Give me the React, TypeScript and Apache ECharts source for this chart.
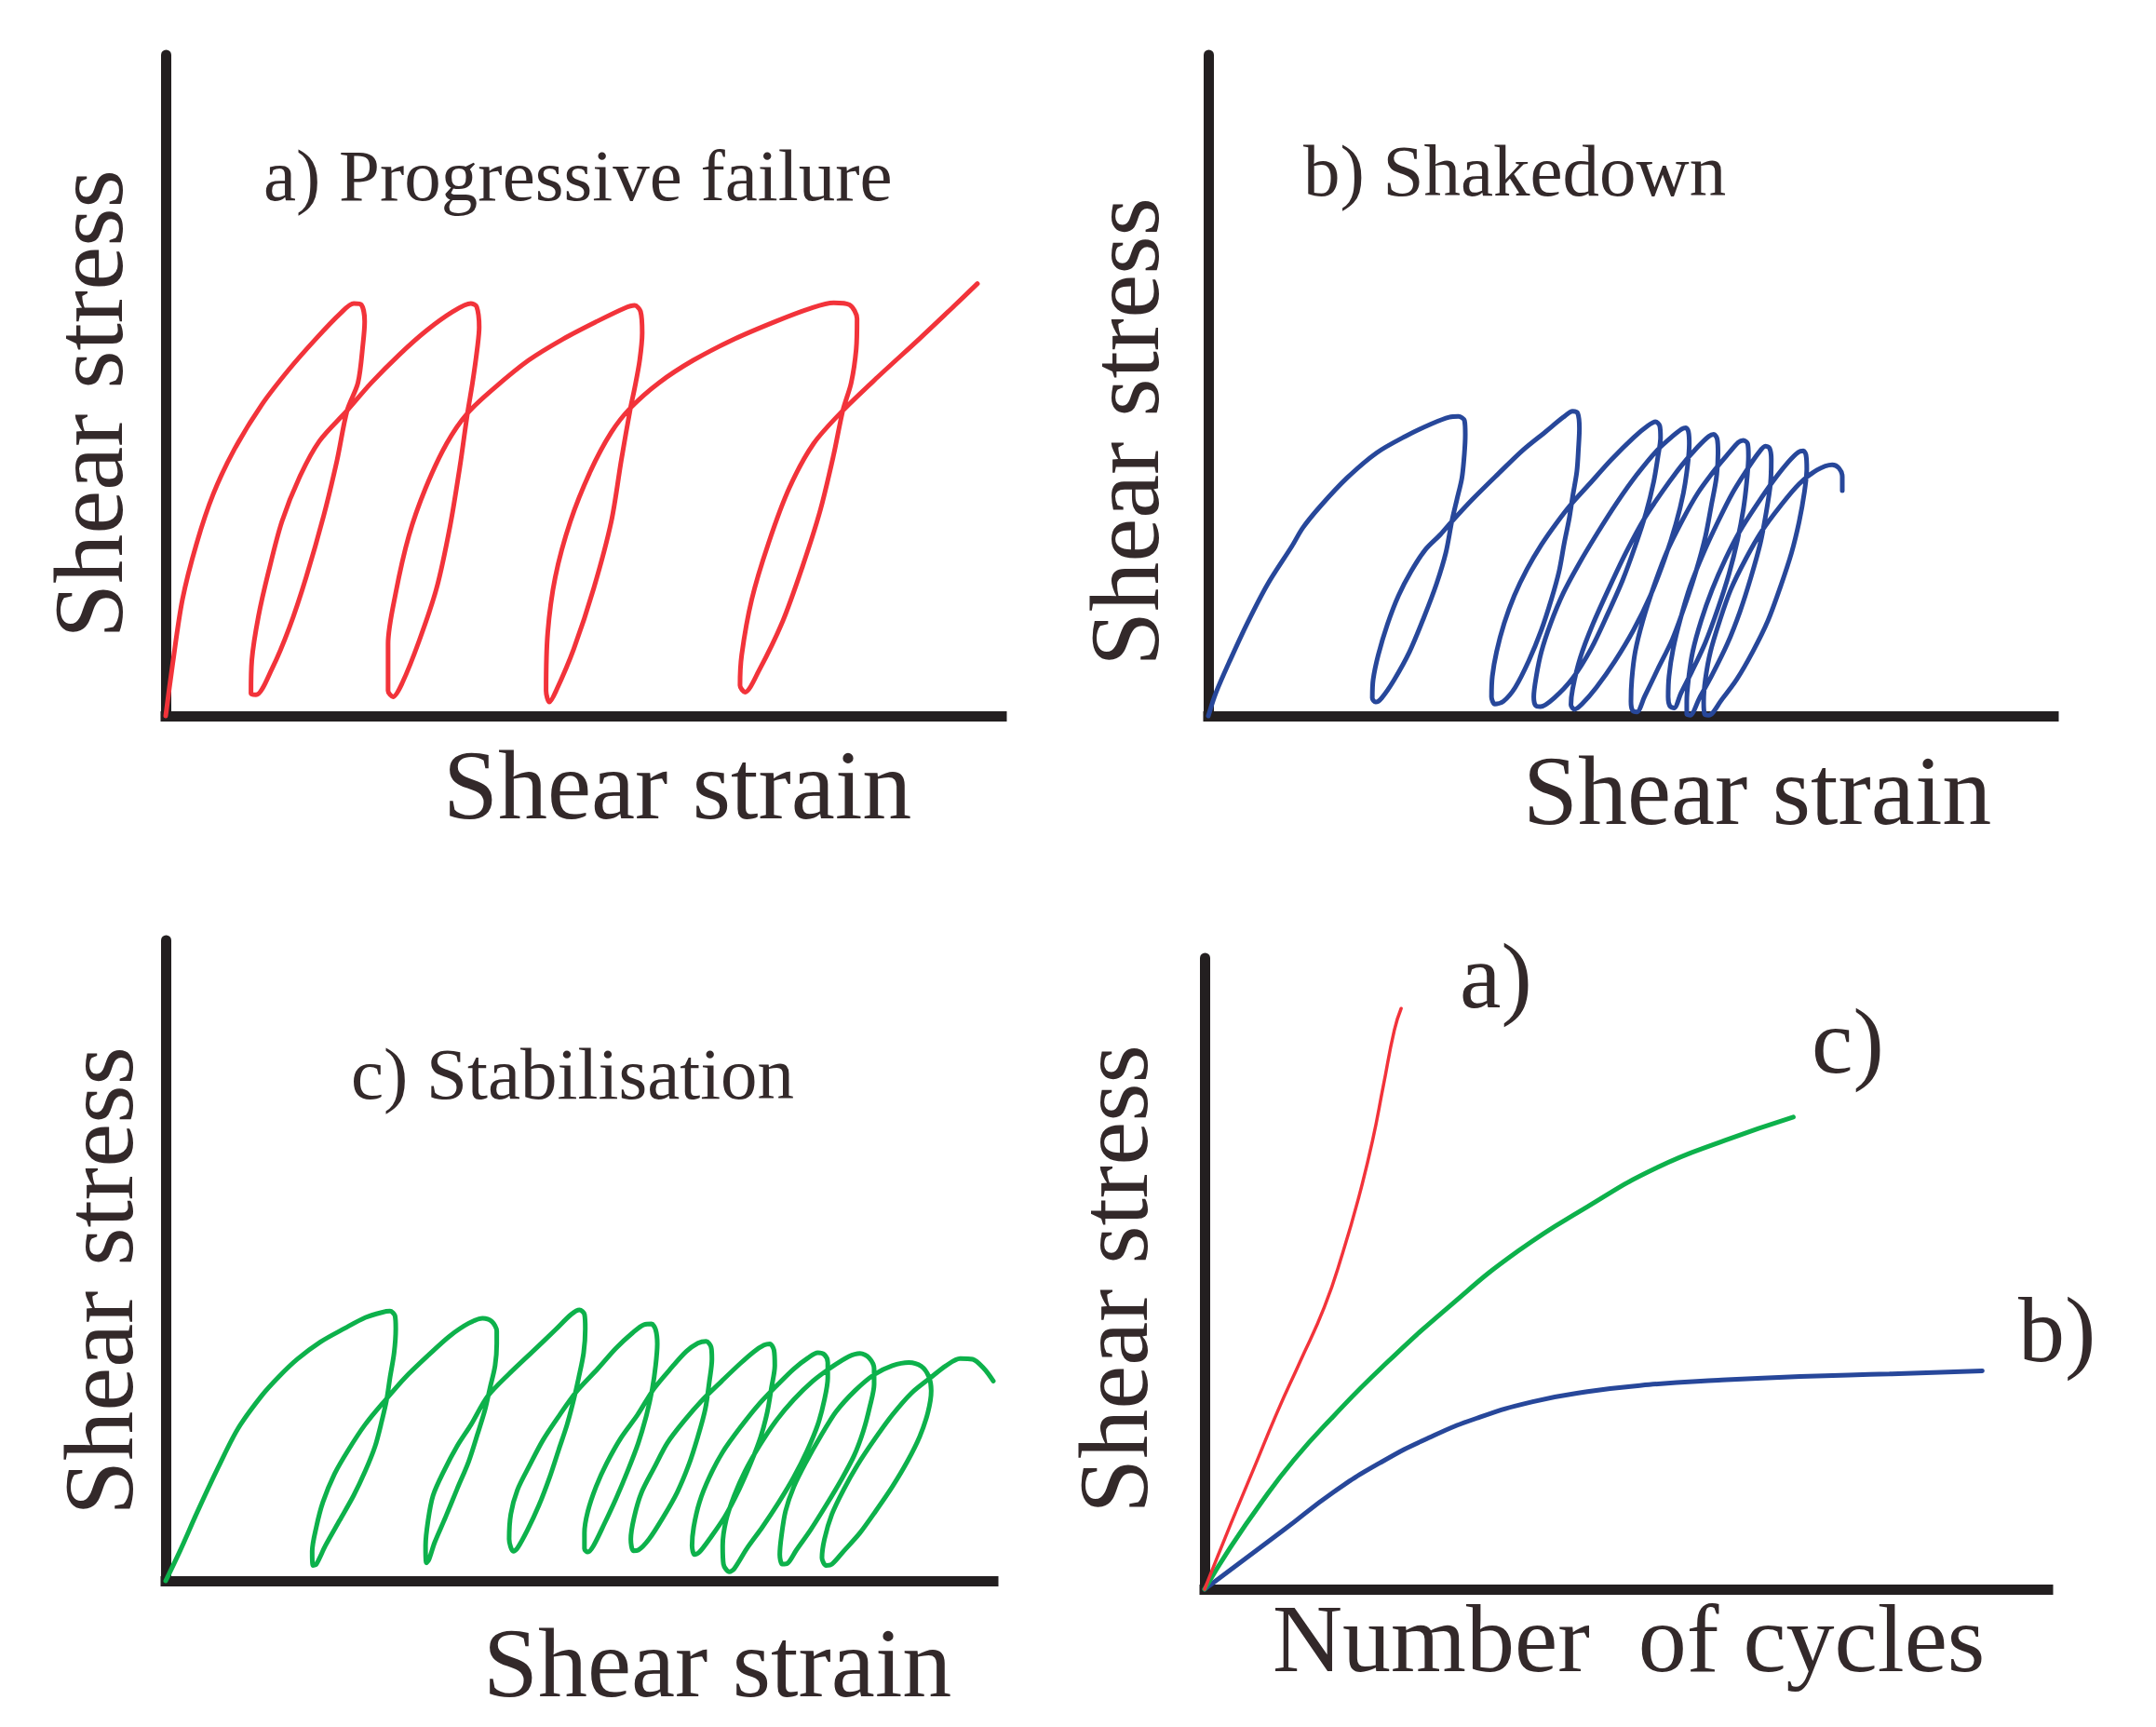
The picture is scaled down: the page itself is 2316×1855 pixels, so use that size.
import React, { useEffect, useRef } from "react";
import * as echarts from "echarts";

// ---- Panel a) Progressive failure : shear strain (x) vs shear stress (y), normalised 0-100
const curveA: number[][] = [
  [0, 0], [0.8, 7.6], [2.0, 17.6], [3.7, 26.1], [5.7, 33.6], [8.2, 40.3], [11.5, 47.1], [14.8, 52.5], [18.0, 57.1], [20.9, 60.9], [22.5, 62.4], [23.4, 62.2], [23.8, 59.7],
  [23.6, 56.3], [23.0, 50.4], [21.7, 46.2], [20.5, 38.7], [18.9, 30.3], [16.8, 21.0], [14.8, 13.4], [12.7, 7.1], [10.8, 3.2], [10.2, 3.4],
  [10.3, 8.4], [11.1, 15.1], [12.3, 21.8], [13.9, 29.4], [16.0, 36.1], [18.4, 41.6], [21.7, 46.2], [24.6, 50.4], [27.9, 54.6], [31.1, 58.2], [34.4, 61.2], [36.5, 62.4], [37.2, 61.9], [37.5, 58.8],
  [37.3, 55.9], [36.7, 50.4], [36.1, 45.8], [35.2, 37.8], [34.0, 28.6], [32.4, 19.3], [30.3, 11.3], [28.3, 5.0], [27.2, 2.9], [26.6, 3.8],
  [26.6, 10.9], [27.5, 18.5], [29.1, 27.3], [31.1, 34.5], [33.6, 41.2], [36.1, 45.8], [39.3, 49.6], [43.4, 53.8], [47.5, 57.0], [51.6, 59.7], [54.9, 61.7], [56.1, 62.1], [56.8, 61.2], [57.0, 58.0],
  [56.7, 53.8], [56.1, 49.6], [55.6, 46.6], [54.5, 38.7], [53.3, 29.4], [51.2, 19.3], [48.8, 10.1], [46.7, 3.8], [45.9, 2.1], [45.5, 3.8],
  [45.7, 12.6], [46.6, 21.0], [48.4, 29.4], [50.8, 37.0], [53.3, 42.9], [55.6, 46.6], [59.0, 50.4], [63.1, 53.8], [68.0, 57.0], [73.0, 59.7], [77.0, 61.6], [79.9, 62.5], [81.8, 62.2], [82.7, 60.1],
  [82.6, 55.5], [82.0, 50.4], [81.0, 46.2], [79.9, 39.5], [78.3, 31.1], [76.2, 22.7], [73.8, 14.3], [70.9, 6.7], [69.3, 3.6], [68.7, 4.6],
  [68.9, 9.2], [70.1, 17.6], [72.1, 26.1], [74.6, 34.5], [77.5, 41.2], [81.0, 46.2], [85.2, 51.3], [90.2, 57.1], [94.3, 62.0], [97.1, 65.4],
];

// ---- Panel b) Shakedown
const curveB: number[][] = [
  [0, 0], [0.9, 3.5], [2.6, 8.5], [4.6, 14.0], [7.0, 19.9], [9.9, 25.7], [11.2, 28.5], [13.3, 31.8], [16.4, 36.0], [19.9, 39.8], [23.3, 42.3], [26.4, 44.2], [28.5, 45.2], [29.6, 45.3], [30.3, 44.7], [30.4, 42.6],
  [30.3, 39.8], [30.0, 36.0], [29.4, 32.7], [28.8, 29.4], [28.1, 24.7], [27.0, 20.0], [25.5, 14.9], [23.8, 9.7], [22.0, 5.5], [20.5, 2.7], [19.8, 2.1], [19.4, 2.7],
  [19.5, 5.5], [20.1, 9.2], [21.2, 13.9], [22.5, 18.2], [24.0, 21.9], [25.7, 25.2], [27.5, 27.5], [28.8, 29.4], [31.2, 32.7], [34.2, 36.5], [37.2, 40.2], [39.9, 43.0], [42.0, 45.2], [43.1, 46.1], [43.7, 45.8], [43.9, 43.5],
  [43.8, 40.7], [43.6, 37.0], [43.1, 33.2], [42.7, 29.9], [42.1, 26.1], [41.5, 21.9], [40.6, 17.7], [39.4, 13.0], [37.9, 8.3], [36.3, 4.3], [34.9, 2.2], [33.9, 1.8], [33.5, 2.9],
  [33.6, 6.0], [34.1, 9.7], [35.0, 14.0], [36.2, 18.2], [37.7, 22.2], [39.4, 25.9], [41.2, 29.2], [42.9, 32.0], [45.1, 35.1], [47.7, 38.8], [50.3, 42.1], [52.0, 43.9], [52.9, 44.5], [53.4, 43.9], [53.5, 42.1],
  [53.2, 39.3], [52.7, 35.5], [51.8, 30.8], [50.5, 25.7], [49.0, 20.5], [47.2, 15.3], [45.3, 10.2], [43.1, 5.7], [40.9, 2.7], [39.3, 1.4], [38.7, 1.6], [38.5, 2.9],
  [38.8, 6.0], [39.4, 9.7], [40.5, 14.0], [42.0, 18.6], [43.8, 22.9], [46.0, 27.6], [48.3, 32.2], [50.7, 36.5], [53.1, 40.2], [54.9, 42.3], [56.0, 43.4], [56.5, 43.6], [56.8, 43.0], [56.9, 41.2],
  [56.7, 37.9], [56.2, 33.7], [55.3, 29.0], [54.0, 23.8], [52.3, 18.2], [50.3, 13.0], [48.1, 8.3], [45.9, 4.3], [44.2, 1.8], [43.3, 1.0], [42.9, 1.7],
  [43.1, 4.1], [44.0, 8.8], [45.5, 13.9], [47.5, 19.6], [49.4, 24.7], [51.6, 29.9], [53.8, 34.1], [56.0, 37.9], [57.9, 40.7], [59.2, 42.3], [59.8, 42.6], [60.2, 41.9], [60.3, 39.8],
  [60.1, 36.0], [59.5, 31.8], [58.8, 27.1], [57.7, 21.9], [56.4, 16.8], [54.9, 11.6], [53.1, 6.9], [51.6, 2.9], [50.7, 0.6], [50.2, 0.8], [50.0, 2.2],
  [50.1, 5.5], [50.5, 9.7], [51.4, 14.4], [52.7, 19.6], [54.2, 24.7], [56.0, 29.4], [57.9, 33.7], [59.9, 37.2], [61.6, 39.8], [62.7, 41.4], [63.3, 41.7], [63.8, 41.2], [63.9, 39.3],
  [63.7, 35.5], [63.3, 31.3], [62.6, 26.6], [61.6, 21.5], [60.3, 16.3], [58.8, 11.1], [57.2, 6.7], [55.9, 3.4], [55.1, 1.2], [54.6, 1.5], [54.4, 2.9],
  [54.5, 6.0], [55.0, 10.2], [55.9, 14.9], [57.0, 19.6], [58.6, 24.7], [60.3, 29.4], [62.0, 33.7], [63.8, 37.4], [65.1, 39.8], [65.9, 40.8], [66.4, 40.5], [66.6, 38.8],
  [66.5, 35.1], [66.0, 30.8], [65.3, 26.1], [64.2, 21.0], [62.9, 15.8], [61.4, 10.9], [59.6, 6.2], [58.1, 2.7], [57.0, 0.1], [56.6, 0.3], [56.6, 2.2],
  [56.8, 5.5], [57.3, 9.7], [58.3, 14.4], [59.6, 19.1], [61.2, 23.8], [62.9, 28.0], [64.9, 32.0], [66.8, 35.5], [68.6, 38.4], [69.8, 39.9], [70.4, 40.1], [70.7, 39.5], [70.8, 37.4],
  [70.5, 33.7], [69.9, 29.4], [69.0, 24.7], [67.7, 19.6], [66.2, 14.4], [64.4, 9.7], [62.5, 5.5], [60.7, 2.4], [59.2, 0.1], [58.7, 0.3], [58.6, 2.2],
  [58.8, 5.5], [59.4, 9.7], [60.5, 14.4], [61.8, 19.1], [63.6, 23.8], [65.5, 28.0], [67.7, 31.8], [69.9, 35.1], [72.0, 37.2], [73.8, 38.0], [74.6, 37.5], [75.0, 36.2], [75.0, 34.1],
];

// ---- Panel c) Stabilisation
const curveC: number[][] = [
  [0, 0], [1.7, 4.6], [3.8, 10.7], [6.3, 17.6], [8.7, 23.7], [11.6, 28.9], [13.7, 31.9], [15.9, 34.6], [18.7, 37.3], [21.6, 39.4], [24.1, 41.1], [26.1, 41.9], [27.1, 42.1], [27.7, 41.4], [27.8, 39.4],
  [27.6, 35.6], [27.1, 31.7], [26.7, 28.3], [26.1, 24.9], [25.3, 21.0], [24.1, 17.1], [22.7, 13.3], [21.0, 9.4], [19.3, 5.5], [18.2, 2.6], [17.8, 2.4],
  [17.7, 4.6], [18.2, 8.4], [19.0, 12.3], [20.4, 16.7], [22.1, 20.5], [24.1, 24.4], [26.6, 28.3], [28.9, 31.7], [31.8, 35.3], [34.3, 38.2], [36.6, 40.2], [38.3, 41.0], [39.4, 40.5], [40.0, 39.0], [40.0, 37.0],
  [39.8, 33.6], [39.2, 30.2], [38.6, 26.8], [37.7, 23.0], [36.6, 18.6], [35.2, 14.3], [33.8, 9.9], [32.5, 6.0], [31.8, 3.3], [31.5, 2.8],
  [31.4, 5.5], [31.7, 9.4], [32.3, 13.3], [33.6, 17.1], [35.2, 21.0], [36.9, 24.4], [38.9, 28.8], [41.4, 32.2], [44.5, 36.0], [47.1, 39.2], [49.0, 41.6], [50.0, 42.3], [50.6, 41.6], [50.7, 39.4],
  [50.5, 35.6], [49.9, 31.7], [49.3, 28.3], [48.5, 24.4], [47.5, 20.5], [46.4, 16.2], [45.1, 11.8], [43.7, 7.9], [42.5, 5.1], [42.0, 4.6],
  [41.5, 6.5], [41.7, 10.4], [42.5, 14.2], [44.0, 18.1], [45.6, 22.0], [47.6, 25.9], [49.6, 29.5], [52.2, 33.1], [54.4, 36.3], [56.4, 38.7], [57.8, 40.0], [58.7, 40.1], [59.2, 39.2], [59.4, 37.0],
  [59.2, 33.6], [58.8, 30.0], [58.1, 25.9], [57.1, 21.5], [55.8, 17.1], [54.4, 12.8], [53.0, 8.9], [51.7, 5.5], [51.0, 4.5], [50.6, 5.0],
  [50.6, 7.5], [51.0, 10.8], [52.0, 14.7], [53.3, 18.4], [55.0, 22.3], [57.0, 25.9], [59.0, 30.0], [61.2, 33.4], [62.9, 35.8], [64.3, 37.1], [65.3, 37.4], [65.9, 36.5], [66.0, 34.6],
  [65.7, 31.2], [65.2, 26.8], [64.3, 22.5], [63.2, 18.1], [61.8, 13.8], [60.1, 9.9], [58.4, 6.5], [57.1, 4.8], [56.5, 4.7],
  [56.2, 6.5], [56.6, 9.9], [57.5, 13.8], [59.0, 17.6], [60.6, 21.5], [62.6, 24.9], [64.9, 28.3], [67.2, 31.2], [69.4, 33.9], [71.1, 35.8], [72.3, 36.8], [73.0, 37.0], [73.5, 36.0], [73.6, 33.6],
  [73.2, 30.2], [72.7, 26.4], [71.9, 22.5], [70.7, 18.4], [69.3, 14.3], [67.6, 10.1], [65.7, 6.5], [64.5, 4.5], [63.9, 4.1], [63.6, 5.5],
  [63.8, 8.4], [64.5, 12.3], [65.7, 16.2], [67.3, 20.1], [69.4, 23.9], [71.7, 27.6], [74.0, 30.7], [75.9, 33.1], [77.6, 34.8], [78.8, 35.6], [79.6, 35.3], [80.0, 34.1], [80.0, 31.7],
  [79.6, 28.3], [78.8, 24.4], [77.5, 20.3], [75.9, 16.2], [74.1, 12.3], [72.1, 8.4], [70.2, 5.0], [68.7, 1.9], [68.1, 1.4], [67.4, 2.6],
  [67.3, 5.5], [67.7, 9.4], [68.7, 13.3], [70.0, 17.1], [71.7, 21.0], [73.7, 24.9], [75.9, 28.3], [78.2, 31.2], [80.5, 33.4], [82.5, 35.0], [83.9, 35.5], [85.0, 34.8], [85.6, 33.1], [85.6, 30.7],
  [85.1, 27.3], [84.3, 23.4], [83.2, 19.6], [81.6, 15.7], [79.8, 11.8], [77.9, 7.9], [76.2, 4.8], [75.1, 2.7], [74.5, 2.6], [74.2, 4.1],
  [74.4, 7.0], [74.9, 10.9], [75.9, 14.7], [77.4, 18.6], [79.1, 22.5], [81.0, 26.4], [83.3, 29.7], [85.6, 32.2], [87.8, 33.6], [89.8, 34.1], [91.3, 33.5], [92.2, 31.9], [92.5, 29.7],
  [92.1, 26.3], [91.1, 22.5], [89.6, 18.6], [87.8, 14.7], [85.8, 10.9], [83.9, 7.5], [81.9, 4.6], [80.5, 2.6], [79.8, 2.4], [79.3, 3.6],
  [79.6, 6.5], [80.5, 10.4], [81.9, 14.2], [83.6, 18.1], [85.6, 22.0], [87.8, 25.9], [90.1, 29.3], [92.4, 31.7], [94.3, 33.6], [96.0, 34.7], [97.5, 34.6], [98.9, 33.1], [100.0, 31.2],
];

// ---- Panel d) Shear stress vs number of cycles
const cyclesA: number[][] = [[0, 0], [3.0, 10.0], [5.8, 19.0], [8.6, 28.0], [11.3, 36.0], [14.2, 44.7], [16.4, 53.4], [18.3, 62.2], [19.9, 71.0], [21.2, 79.8], [22.5, 88.6], [23.3, 92.0]];
const cyclesC: number[][] = [[0, 0], [3.0, 6.5], [6.6, 13.5], [10.6, 20.5], [15.2, 27.3], [20.9, 35.0], [29.1, 44.9], [37.2, 53.6], [45.4, 60.6], [53.5, 66.7], [61.7, 71.1], [69.8, 74.8]];
const cyclesB: number[][] = [[0, 0], [4.2, 4.2], [9.5, 9.5], [15.2, 15.3], [20.9, 20.1], [26.6, 24.0], [32.3, 27.1], [38.9, 29.7], [45.4, 31.3], [52.7, 32.4], [60.9, 33.1], [70.6, 33.7], [81.2, 34.1], [92.2, 34.6]];

const panelTitles = ["a) Progressive failure", "b) Shakedown", "c) Stabilisation"];
const yLabel = "Shear stress";
const strainLabel = "Shear strain";
const cyclesLabel = "Number  of cycles";
const curveTags = ["a)", "c)", "b)"];

const RED = "#f2333a";
const BLUE = "#27479a";
const GREEN = "#0db14b";
const AXIS = "#231f20";
const INK = "#33292a";
const FONT = "'Liberation Serif', 'Times New Roman', Times, serif";

const grids = [
  { left: 178, top: 59, width: 898, height: 710 },
  { left: 1298, top: 59, width: 908, height: 710 },
  { left: 178, top: 1010, width: 889, height: 688 },
  { left: 1294, top: 1029, width: 906, height: 678 },
];

function txt(text: string, x: number, y: number, size: number, rotation = 0, align = "left") {
  return {
    type: "text",
    x,
    y,
    rotation,
    silent: true,
    style: {
      text,
      fill: INK,
      fontSize: size,
      fontFamily: FONT,
      align,
      textAlign: align,
      verticalAlign: "middle",
      textVerticalAlign: "middle",
    },
  };
}

export default function App() {
  const ref = useRef<HTMLDivElement>(null);
  useEffect(() => {
    document.body.style.margin = "0";
    const chart = echarts.init(ref.current!, null, { renderer: "svg" });
    const xAxis = grids.map((_, i) => ({
      type: "value",
      gridIndex: i,
      min: 0,
      max: 100,
      axisLine: { show: true, onZero: false, lineStyle: { color: AXIS, width: 11, cap: "square" } },
      axisTick: { show: false },
      axisLabel: { show: false },
      splitLine: { show: false },
    }));
    const yAxis = grids.map((_, i) => ({
      type: "value",
      gridIndex: i,
      min: 0,
      max: 100,
      axisLine: { show: true, onZero: false, lineStyle: { color: AXIS, width: 11 } },
      axisTick: { show: false },
      axisLabel: { show: false },
      splitLine: { show: false },
    }));
    const line = (data: number[][], idx: number, color: string, width: number, smooth: number) => ({
      type: "line",
      xAxisIndex: idx,
      yAxisIndex: idx,
      data,
      showSymbol: false,
      symbol: "none",
      smooth,
      clip: false,
      silent: true,
      lineStyle: { color, width, cap: "round", join: "round" },
      z: 3,
    });
    chart.setOption({
      animation: false,
      backgroundColor: "#ffffff",
      grid: grids,
      xAxis,
      yAxis,
      series: [
        line(curveA, 0, RED, 5, 0.3),
        line(curveB, 1, BLUE, 5, 0.3),
        line(curveC, 2, GREEN, 5, 0.3),
        line(cyclesB, 3, BLUE, 5, 0.5),
        line(cyclesC, 3, GREEN, 5, 0.5),
        line(cyclesA, 3, RED, 3.5, 0.5),
      ],
      graphic: [
        txt(panelTitles[0], 283, 188, 79),
        txt(panelTitles[1], 1400, 183, 79),
        txt(panelTitles[2], 377, 1153, 79),
        txt(strainLabel, 476, 843, 106),
        txt(strainLabel, 1636, 849, 106),
        txt(strainLabel, 519, 1786, 106),
        txt(cyclesLabel, 1367, 1759, 104),
        txt(yLabel, 95, 434, 106, Math.PI / 2, "center"),
        txt(yLabel, 1208, 464, 106, Math.PI / 2, "center"),
        txt(yLabel, 106, 1376, 106, Math.PI / 2, "center"),
        txt(yLabel, 1196, 1374, 106, Math.PI / 2, "center"),
        txt(curveTags[0], 1568, 1048, 100),
        txt(curveTags[1], 1946, 1118, 100),
        txt(curveTags[2], 2168, 1428, 100),
      ],
    });
    return () => chart.dispose();
  }, []);
  return <div ref={ref} style={{ width: 2316, height: 1855, background: "#ffffff" }} />;
}
